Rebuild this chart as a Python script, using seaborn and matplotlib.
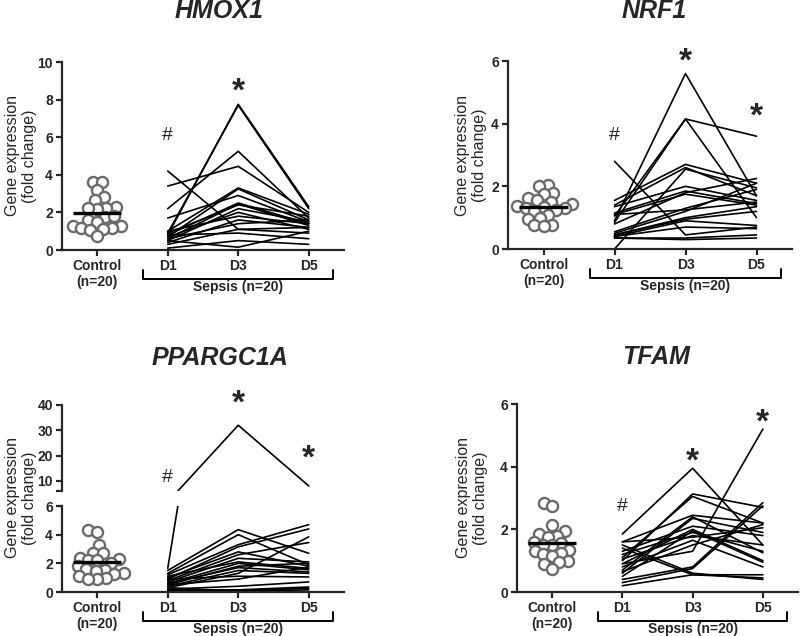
import numpy as np
import pandas as pd
import matplotlib
matplotlib.use("Agg")
import matplotlib.pyplot as plt
import matplotlib.transforms as mtransforms
import seaborn as sns

# tick labels / groups
x_labels = ["Control\n(n=20)", "D1", "D3", "D5"]
day_pos = [1, 2, 3]

# HMOX1
hmox1_control = [3.6, 3.6, 3.2, 2.8, 2.65, 2.3, 2.25, 2.2, 2.25, 1.75,
                 1.8, 1.6, 1.5, 1.3, 1.3, 1.15, 1.15, 1.1, 1.05, 0.75]
hmox1_d1 = [0.8, 0.9, 2.2, 3.4, 4.2, 1.0, 0.7, 1.7, 0.8, 0.6,
            0.9, 0.5, 0.7, 1.0, 0.4, 0.6, 0.3, 0.8, 0.1, 0.5]
hmox1_d3 = [7.75, 7.7, 5.25, 4.45, 1.1, 3.3, 3.25, 2.9, 2.5, 2.45,
            2.4, 2.2, 2.0, 1.8, 1.6, 1.4, 1.1, 0.9, 0.5, 0.15]
hmox1_d5 = [2.3, 2.2, 1.7, 2.0, 1.2, 1.9, 1.6, 1.5, 1.4, 1.3,
            1.8, 1.5, 1.1, 1.4, 1.2, 1.6, 0.9, 0.6, 0.3, 1.0]

# NRF1
nrf1_control = [2.05, 2.0, 1.78, 1.75, 1.62, 1.55, 1.5, 1.45, 1.38, 1.35,
                1.3, 1.3, 1.25, 1.2, 1.1, 0.98, 0.95, 0.78, 0.76, 0.72]
nrf1_d1 = [0.9, 1.05, 0.85, 2.8, 1.55, 1.4, 0.0, 1.35, 1.15, 0.8,
           1.1, 0.55, 1.1, 0.5, 0.45, 0.45, 0.4, 0.4, 0.35, 0.35]
nrf1_d3 = [5.6, 4.15, 4.15, 0.45, 2.7, 2.6, 2.55, 2.0, 1.85, 1.8,
           1.75, 1.3, 1.25, 1.2, 1.0, 0.95, 0.9, 0.7, 0.35, 0.3]
nrf1_d5 = [1.7, 3.6, 1.0, 0.7, 2.1, 1.7, 1.95, 1.55, 1.45, 2.25,
           1.4, 1.9, 1.5, 2.1, 1.35, 1.2, 0.75, 0.65, 0.45, 0.35]

# PPARGC1A
ppargc1a_control = [4.35, 4.2, 3.25, 2.75, 2.7, 2.4, 2.3, 2.25, 2.2, 2.0,
                    1.8, 1.6, 1.55, 1.5, 1.3, 1.25, 1.1, 0.95, 0.9, 0.9]
ppargc1a_d1 = [1.65, 1.5, 1.3, 1.2, 0.9, 1.0, 0.8, 0.7, 1.1, 0.6,
               0.5, 0.4, 0.3, 0.9, 0.5, 0.2, 0.15, 0.1, 0.3, 0.6]
ppargc1a_d3 = [32.0, 4.35, 4.0, 3.3, 3.15, 2.8, 2.6, 2.35, 2.1, 2.0,
               1.8, 1.5, 1.3, 1.1, 0.9, 0.4, 0.15, 0.1, 0.05, 1.7]
ppargc1a_d5 = [8.0, 2.7, 1.9, 4.7, 4.4, 1.8, 3.45, 2.1, 1.65, 1.55,
               2.0, 1.3, 3.85, 1.05, 1.75, 0.7, 0.35, 0.25, 0.15, 1.4]

# TFAM
tfam_control = [2.85, 2.75, 2.15, 1.95, 1.85, 1.8, 1.75, 1.6, 1.55, 1.5,
                1.5, 1.35, 1.3, 1.25, 1.2, 1.15, 1.0, 0.95, 0.9, 0.75]
tfam_d1 = [1.85, 1.0, 1.1, 0.9, 1.6, 1.6, 0.7, 0.6, 1.4, 1.3,
           0.5, 1.2, 0.4, 0.3, 1.05, 0.8, 0.2, 1.5, 0.65, 0.9]
tfam_d3 = [3.95, 3.13, 3.05, 1.3, 2.45, 1.75, 2.4, 2.35, 0.55, 2.1,
           1.95, 1.9, 0.8, 0.75, 1.8, 1.65, 0.55, 0.6, 1.5, 2.0]
tfam_d5 = [1.5, 2.7, 2.2, 5.2, 2.2, 2.05, 1.25, 1.9, 0.55, 1.8,
           0.95, 1.3, 2.85, 2.75, 1.5, 0.8, 0.45, 0.4, 2.15, 1.0]

sns.set_style("ticks")
plt.rcParams["font.family"] = ["Liberation Sans", "DejaVu Sans"]

W, H = 800, 636
fig = plt.figure(figsize=(W / 100, H / 100), dpi=100)
swarms = []


def box(left, top, right, bottom):
    return [left / W, 1 - bottom / H, (right - left) / W, (bottom - top) / H]


def long_df(d1, d3, d5):
    n = len(d1)
    return pd.DataFrame({"subject": np.tile(np.arange(n), 3),
                         "pos": np.repeat(day_pos, n),
                         "value": np.concatenate([d1, d3, d5])})


def style_axis(ax):
    sns.despine(ax=ax)
    for s in ["left", "bottom"]:
        ax.spines[s].set_linewidth(1.6)
    ax.tick_params(width=1.6, length=4, pad=2.5, labelsize=10)
    for lab in ax.get_xticklabels() + ax.get_yticklabels():
        lab.set_fontweight("bold")
    ax.set_xlabel("")
    ax.set_ylabel("")


def draw_panel(ax, control, d1, d3, d5, with_control=True):
    if with_control:
        sns.swarmplot(x=np.zeros(len(control)), y=control, native_scale=True,
                      orient="v", ax=ax, color="white", edgecolor="#6a6a6a",
                      linewidth=1.7, size=4.6, zorder=3)
        swarms.append(ax.collections[-1])
        m = np.mean(control)
        ax.plot([-0.34, 0.34], [m, m], color="black", lw=2.4, zorder=5,
                solid_capstyle="butt")
    sns.lineplot(data=long_df(d1, d3, d5), x="pos", y="value", units="subject",
                 estimator=None, color="black", lw=1.2, ax=ax, legend=False)
    ax.set_xlim(-0.5, 3.5)
    ax.set_xticks([0] + day_pos)
    ax.set_xticklabels(x_labels)


def bracket(ax):
    h = ax.bbox.height
    trans = mtransforms.blended_transform_factory(ax.transData, ax.transAxes)
    ax.plot([0.65, 0.65, 3.35, 3.35], [-20 / h, -29 / h, -29 / h, -20 / h],
            transform=trans, color="black", lw=1.4, clip_on=False)
    ax.text(2, -37 / h, "Sepsis (n=20)", transform=trans, ha="center",
            va="center", fontsize=10, fontweight="bold")


def mark(ax, x, y, s):
    fs = 24 if s == "*" else 14
    frac = 0.58 if s == "*" else 0.36
    ax.annotate(s, (x, y), xytext=(0, -frac * fs), textcoords="offset points",
                ha="center", va="baseline", fontsize=fs,
                fontweight="bold" if s == "*" else "normal",
                annotation_clip=False)


def ylabel(x, y):
    fig.text(x / W, 1 - y / H, "Gene expression\n(fold change)", rotation=90,
             ha="center", va="center", fontsize=11.5, multialignment="center")


def title(x, y, s):
    fig.text(x / W, 1 - y / H, s, ha="center", va="center", fontsize=18,
             fontweight="bold", fontstyle="italic")


# HMOX1
ax1 = fig.add_axes(box(62, 62, 344, 250))
draw_panel(ax1, hmox1_control, hmox1_d1, hmox1_d3, hmox1_d5)
ax1.set_ylim(0, 10)
ax1.set_yticks([0, 2, 4, 6, 8, 10])
style_axis(ax1)
bracket(ax1)
mark(ax1, 1, 6.2, "#")
mark(ax1, 2, 9.0, "*")
ylabel(21, 156)
title(219, 11, "HMOX1")

# NRF1
ax2 = fig.add_axes(box(508, 61, 792, 249))
draw_panel(ax2, nrf1_control, nrf1_d1, nrf1_d3, nrf1_d5)
ax2.set_ylim(0, 6)
ax2.set_yticks([0, 2, 4, 6])
style_axis(ax2)
bracket(ax2)
mark(ax2, 1, 3.7, "#")
mark(ax2, 2, 6.3, "*")
mark(ax2, 3, 4.55, "*")
ylabel(471, 155)
title(654, 11, "NRF1")

# PPARGC1A (broken axis)
ax3 = fig.add_axes(box(62, 506, 344, 592))
ax3u = fig.add_axes(box(62, 405, 344, 491), sharex=ax3)
draw_panel(ax3, ppargc1a_control, ppargc1a_d1, ppargc1a_d3, ppargc1a_d5)
draw_panel(ax3u, ppargc1a_control, ppargc1a_d1, ppargc1a_d3, ppargc1a_d5,
           with_control=False)
ax3.set_ylim(0, 6)
ax3.set_yticks([0, 2, 4, 6])
ax3u.set_ylim(6, 40)
ax3u.set_yticks([6, 10, 20, 30, 40])
ax3u.set_yticklabels(["", "10", "20", "30", "40"])
style_axis(ax3)
style_axis(ax3u)
ax3u.spines["bottom"].set_visible(False)
ax3u.tick_params(axis="x", bottom=False, labelbottom=False)
bracket(ax3)
mark(ax3u, 1, 12.4, "#")
mark(ax3u, 2, 44.5, "*")
mark(ax3u, 3, 23, "*")
ylabel(21, 498)
title(220, 358, "PPARGC1A")

# TFAM
ax4 = fig.add_axes(box(517, 404, 798, 592))
draw_panel(ax4, tfam_control, tfam_d1, tfam_d3, tfam_d5)
ax4.set_ylim(0, 6)
ax4.set_yticks([0, 2, 4, 6])
style_axis(ax4)
bracket(ax4)
mark(ax4, 1, 2.8, "#")
mark(ax4, 2, 4.5, "*")
mark(ax4, 3, 5.75, "*")
ylabel(472, 498)
title(656, 357, "TFAM")

# lay the swarms out once at the small size, then freeze them and
# enlarge the circles so they overlap like the original scatter
fig.canvas.draw()
for pts in swarms:
    if "draw" in pts.__dict__:
        del pts.draw
    pts.set_sizes([8.0 ** 2])

fig.savefig("out.png", dpi=100)
